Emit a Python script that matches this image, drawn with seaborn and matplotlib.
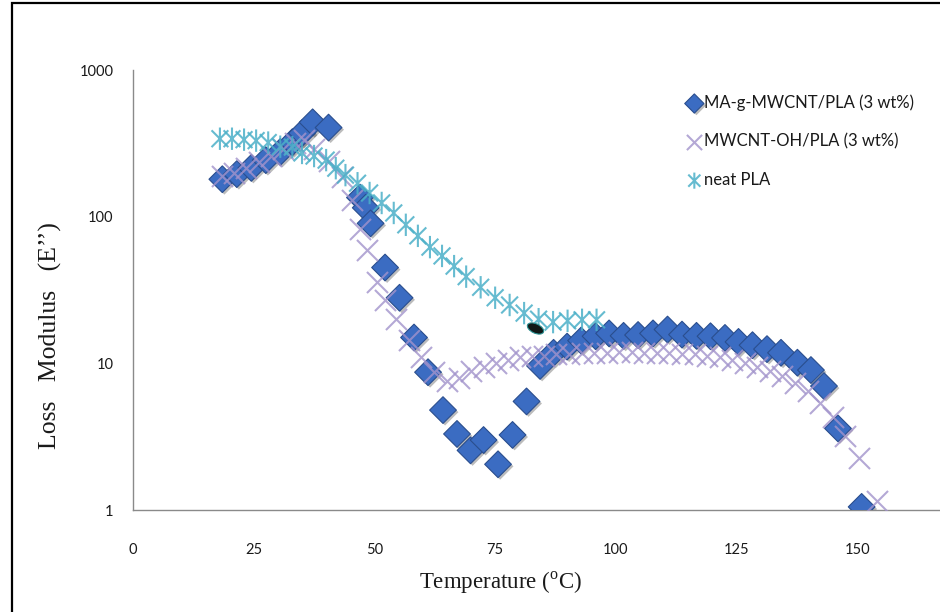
import matplotlib
matplotlib.use("Agg")
import matplotlib.pyplot as plt
import matplotlib.patheffects as pe
import pandas as pd
import seaborn as sns
from matplotlib.markers import MarkerStyle
from matplotlib.patches import Rectangle
from matplotlib.path import Path
from matplotlib.transforms import Affine2D

# ---- data: loss modulus E'' (MPa) against temperature (°C) ----
series_names = ["MA-g-MWCNT/PLA (3 wt%)", "MWCNT-OH/PLA (3 wt%)", "neat PLA"]

temp_ma = [18.5, 21.5, 24.5, 27.5, 30.5, 33.0, 35.0, 37.2, 40.5, 47.0, 48.2, 49.2,
           52.2, 55.2, 58.2, 61.1, 64.2, 67.1, 69.9, 72.6, 75.6, 78.6, 81.5, 84.3,
           87.1, 89.9, 92.8, 95.8, 98.6, 101.6, 104.6, 107.7, 110.7, 113.7, 116.7,
           119.6, 122.6, 125.4, 128.3, 131.3, 134.2, 137.6, 140.4, 143.1, 146.0, 150.9]
loss_ma = [180, 195, 215, 243, 276, 322, 371, 440, 405, 135, 115, 90,
           45, 28, 15, 8.7, 4.8, 3.3, 2.55, 3.0, 2.05, 3.25, 5.5, 9.6,
           11.8, 13.0, 14.3, 15.3, 16.0, 15.4, 15.6, 16.0, 17.0, 15.7, 15.4,
           15.3, 14.9, 14.0, 13.3, 12.5, 11.8, 10.1, 9.0, 7.0, 3.6, 1.05]

temp_oh = [18.5, 21.0, 23.5, 26.0, 28.5, 31.0, 33.5, 35.5, 37.5, 40.5, 43.2, 45.4,
           47.0, 48.5, 50.5, 52.2, 54.5, 57.2, 59.7, 62.3, 65.0, 67.6, 70.1, 72.6,
           75.1, 77.6, 80.1, 82.6, 85.1, 87.7, 90.3, 92.9, 95.5, 98.1, 100.7, 103.3,
           105.9, 108.5, 111.1, 113.7, 116.3, 118.9, 121.5, 124.1, 126.7, 129.3,
           131.9, 134.5, 137.1, 139.7, 142.3, 144.9, 147.5, 150.4, 154.0]
loss_oh = [190, 200, 215, 235, 260, 290, 320, 335, 290, 240, 186, 130,
           82, 59, 36, 27, 20, 14.5, 11.0, 8.7, 7.6, 8.0, 8.8, 9.5,
           10.1, 10.6, 11.0, 11.2, 11.3, 11.5, 11.6, 11.7, 11.8, 11.8, 11.9, 11.9,
           11.8, 11.8, 11.7, 11.6, 11.5, 11.3, 11.0, 10.6, 10.1, 9.5,
           8.9, 8.2, 7.4, 6.5, 5.4, 4.3, 3.2, 2.25, 1.15]

temp_neat = [18.0, 20.5, 23.0, 25.5, 28.0, 30.5, 33.0, 35.0, 37.5, 40.0, 42.0, 44.0,
             46.5, 49.0, 51.5, 54.0, 56.5, 59.0, 61.5, 64.0, 66.5, 69.0, 72.0, 75.0,
             78.0, 81.0, 84.0, 87.0, 90.0, 93.0, 96.0]
loss_neat = [340, 340, 335, 330, 320, 300, 298, 272, 259, 243, 214, 192,
             169, 145, 124, 106, 88, 74, 62, 54, 46, 39, 33, 28,
             25, 22, 20, 19.1, 19.5, 19.8, 19.8]

# a single selected point sitting on the neat PLA curve
flag_temp = [83.2]
flag_loss = [17.4]

x_ticks = [0, 25, 50, 75, 100, 125, 150]
y_ticks = [1, 10, 100, 1000]
y_tick_labels = ["1", "10", "100", "1000"]

df_ma = pd.DataFrame({"temperature": temp_ma, "loss": loss_ma})
df_oh = pd.DataFrame({"temperature": temp_oh, "loss": loss_oh})
df_neat = pd.DataFrame({"temperature": temp_neat, "loss": loss_neat})
df_flag = pd.DataFrame({"temperature": flag_temp, "loss": flag_loss})

# ---- styling ----
sns.set_theme(style="white")
plt.rcParams["font.family"] = ["Lato", "DejaVu Sans"]
plt.rcParams["mathtext.fontset"] = "custom"
plt.rcParams["mathtext.rm"] = "Liberation Serif"

blue = "#3B6CC2"
blue_edge = "#2A4E8E"
lavender = "#A293CB"
teal = "#4BB0C8"

# X with a vertical stroke through it
asterisk = Path(
    [(0, -1), (0, 1), (-0.75, -0.75), (0.75, 0.75), (-0.75, 0.75), (0.75, -0.75)],
    [Path.MOVETO, Path.LINETO, Path.MOVETO, Path.LINETO, Path.MOVETO, Path.LINETO],
)

fig = plt.figure(figsize=(9.4, 6.12), dpi=100)
ax = fig.add_axes([133 / 940, 102 / 612, 845 / 940, 440 / 612])

sns.scatterplot(data=df_ma, x="temperature", y="loss", ax=ax, marker="D",
                s=185, color=blue, edgecolor=blue_edge, linewidth=0.8,
                label=series_names[0], zorder=3)
sns.scatterplot(data=df_oh, x="temperature", y="loss", ax=ax, marker="x",
                s=230, color=lavender, linewidth=1.5, alpha=0.8,
                label=series_names[1], zorder=4)
sns.scatterplot(data=df_neat, x="temperature", y="loss", ax=ax,
                marker=MarkerStyle(asterisk), s=260, facecolor="none",
                edgecolor=teal, color=teal, linewidth=1.5, alpha=0.85,
                label=series_names[2], zorder=5)
sns.scatterplot(data=df_flag, x="temperature", y="loss", ax=ax,
                marker=MarkerStyle("o", transform=Affine2D().scale(1.5, 0.8).rotate_deg(-25)),
                s=70, color="#101818", edgecolor="#2a8f90", linewidth=0.8,
                legend=False, zorder=6)

# soft drop shadow under the diamonds
ax.collections[0].set_path_effects([
    pe.SimplePatchShadow(offset=(1.5, -1.5), shadow_rgbFace="#404040", alpha=0.35),
    pe.Normal(),
])

ax.set_yscale("log")
ax.set_xlim(0, 175)
ax.set_ylim(1, 1000)
ax.set_xticks(x_ticks)
ax.set_xticklabels([str(t) for t in x_ticks])
ax.set_yticks(y_ticks)
ax.set_yticklabels(y_tick_labels)
ax.minorticks_off()
ax.tick_params(axis="both", length=0, labelsize=10.5, colors="#1a1a1a")
ax.tick_params(axis="x", pad=24)
ax.tick_params(axis="y", pad=14)
ax.set_xlabel("")
ax.set_ylabel("")
for side in ("top", "right"):
    ax.spines[side].set_visible(False)
for side in ("left", "bottom"):
    ax.spines[side].set_color("#8a8a8a")
    ax.spines[side].set_linewidth(1.0)
ax.grid(False)

fig.text(50 / 940, 1 - 336 / 612, "Loss   Modulus   (E\u2019\u2019)", rotation=90,
         ha="center", va="center", fontsize=18.5, family="Liberation Serif",
         color="#1a1a1a")
fig.text(500 / 940, 1 - 583 / 612, "Temperature ($^\\mathrm{o}$C)", ha="center",
         va="center", fontsize=16.5, family="Liberation Serif", color="#1a1a1a")

leg = ax.legend(loc="upper left", bbox_to_anchor=(676 / 940, 1 - 86 / 612),
                bbox_transform=fig.transFigure, frameon=False, fontsize=12,
                markerscale=0.72, handletextpad=0.0, handlelength=1.2,
                labelspacing=1.35, borderpad=0)
for text in leg.get_texts():
    text.set_color("#1a1a1a")

# outer frame of the chart area
fig.patches.append(Rectangle((12 / 940, -0.02), 1.0, 1.02 - 3 / 612,
                             transform=fig.transFigure, fill=False,
                             edgecolor="black", linewidth=1.6, zorder=10))

fig.savefig("out.png", dpi=100, facecolor="white")
